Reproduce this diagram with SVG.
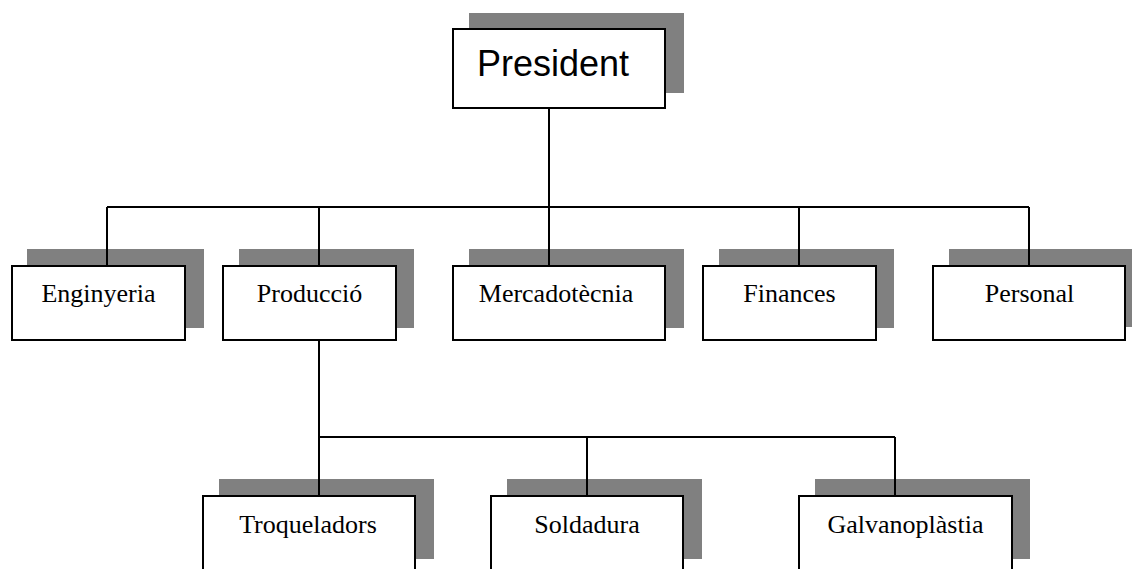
<svg xmlns="http://www.w3.org/2000/svg" width="1132" height="569" viewBox="0 0 1132 569">
  <style>
    .shadow { fill: #808080; stroke: none; }
    .box { fill: #ffffff; stroke: #000000; stroke-width: 2; }
    .label { font-family: "Liberation Serif", "Times New Roman", serif; font-size: 26px; fill: #000000; text-anchor: middle; }
    .title { font-family: "Liberation Sans", Arial, sans-serif; font-size: 36px; fill: #000000; text-anchor: middle; }
    .wire { fill: none; stroke: #000000; stroke-width: 2; }
  </style>
  <rect width="1132" height="569" fill="#ffffff"/>

  <!-- top of the hierarchy -->
  <g id="president">
    <rect class="shadow" x="469" y="13" width="215" height="80"/>
    <rect class="box" x="453" y="29" width="212" height="79"/>
    <text class="title" x="553" y="76">President</text>
  </g>

  <!-- departments -->
  <g id="enginyeria">
    <rect class="shadow" x="27" y="249" width="177" height="79"/>
    <rect class="box" x="12" y="266" width="173" height="74"/>
    <text class="label" x="98.5" y="302">Enginyeria</text>
  </g>
  <g id="produccio">
    <rect class="shadow" x="239" y="249" width="175" height="79"/>
    <rect class="box" x="223" y="266" width="173" height="74"/>
    <text class="label" x="309.5" y="302">Producció</text>
  </g>
  <g id="mercadotecnia">
    <rect class="shadow" x="469" y="249" width="215" height="79"/>
    <rect class="box" x="453" y="266" width="212" height="74"/>
    <text class="label" x="556" y="302">Mercadotècnia</text>
  </g>
  <g id="finances">
    <rect class="shadow" x="719" y="249" width="175" height="79"/>
    <rect class="box" x="703" y="266" width="173" height="74"/>
    <text class="label" x="789.5" y="302">Finances</text>
  </g>
  <g id="personal">
    <rect class="shadow" x="949" y="249" width="190" height="78"/>
    <rect class="box" x="933" y="266" width="192" height="74"/>
    <text class="label" x="1029.5" y="302">Personal</text>
  </g>

  <!-- production sections -->
  <g id="troqueladors">
    <rect class="shadow" x="219" y="479" width="215" height="80"/>
    <rect class="box" x="203" y="496" width="212" height="110"/>
    <text class="label" x="308" y="533">Troqueladors</text>
  </g>
  <g id="soldadura">
    <rect class="shadow" x="507" y="479" width="195" height="80"/>
    <rect class="box" x="491" y="496" width="192" height="110"/>
    <text class="label" x="587" y="533">Soldadura</text>
  </g>
  <g id="galvanoplastia">
    <rect class="shadow" x="815" y="479" width="215" height="80"/>
    <rect class="box" x="799" y="496" width="213" height="110"/>
    <text class="label" x="905.5" y="533">Galvanoplàstia</text>
  </g>

  <!-- reporting lines -->
  <g id="connectors">
    <path class="wire" d="M549 108 V207 M107 207 H1029 M107 207 V266 M319 207 V266 M549 207 V266 M799 207 V266 M1029 207 V266"/>
    <path class="wire" d="M319 340 V437 M319 437 H895 M319 437 V496 M587 437 V496 M895 437 V496"/>
  </g>
</svg>
